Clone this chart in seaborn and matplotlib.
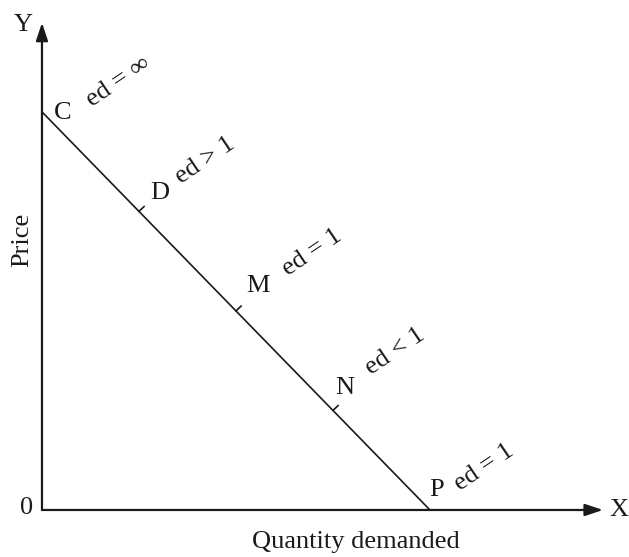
import matplotlib
matplotlib.use("Agg")
import matplotlib.pyplot as plt
import seaborn as sns
import pandas as pd

# demand line C -> P
quantity = [0, 10]
price = [10, 0]

# marked points on the line (fraction of the way from C to P)
point_names = ["D", "M", "N"]
point_q = [2.5, 5.0, 7.5]

# labels: name, x, y
point_labels = ["C", "D", "M", "N", "P"]
point_label_x = [0.54, 3.04, 5.57, 7.81, 10.18]
point_label_y = [9.97, 7.96, 5.63, 3.07, 0.50]

elast_labels = ["ed = ∞", "ed > 1", "ed = 1", "ed < 1", "ed = 1"]
elast_x = [1.96, 4.20, 6.96, 9.10, 11.39]
elast_y = [10.75, 8.79, 6.46, 3.97, 1.08]

sns.set_theme(style="white")
plt.rcParams['font.family'] = ['Liberation Serif', 'DejaVu Serif']
plt.rcParams['mathtext.fontset'] = 'stix'

fig = plt.figure(figsize=(6.29, 5.57), dpi=100)
ax = fig.add_axes([0, 0, 1, 1])
ax.set_xlim(-1.082, 15.13)
ax.set_ylim(-1.181, 12.81)
ax.axis('off')

ink = "#1a1a1a"
df = pd.DataFrame({"Quantity": quantity, "Price": price})
sns.lineplot(data=df, x="Quantity", y="Price", color=ink, lw=1.2, ax=ax)

# axes with arrows
arrow = dict(arrowstyle="-|>,head_length=0.9,head_width=0.3", color=ink, lw=1.6,
             shrinkA=0, shrinkB=0, mutation_scale=12)
ax.annotate("", xy=(14.46, 0), xytext=(0, 0), arrowprops=arrow)
ax.annotate("", xy=(0, 12.24), xytext=(0, 0), arrowprops=arrow)

# small ticks on the line
slope = (price[1] - price[0]) / (quantity[1] - quantity[0])
for q in point_q:
    p = price[0] + slope * q
    ax.plot([q, q + 0.135], [p, p + 0.125], color=ink, lw=1.2)

fs = 19
for name, x, y in zip(point_labels, point_label_x, point_label_y):
    ax.text(x, y, name, fontsize=fs, ha='center', va='center', color=ink)
for lab, x, y in zip(elast_labels, elast_x, elast_y):
    ax.text(x, y, lab, fontsize=fs, ha='center', va='center', rotation=34,
            rotation_mode='anchor', color=ink)

ax.text(-0.49, 12.19, "Y", fontsize=fs, ha='center', va='center', color=ink)
ax.text(14.87, 0.0, "X", fontsize=fs, ha='center', va='center', color=ink)
ax.text(-0.41, 0.05, "0", fontsize=fs, ha='center', va='center', color=ink)
ax.text(-0.52, 6.78, "Price", fontsize=fs, ha='center', va='center', rotation=90, color=ink)
ax.text(8.09, -0.80, "Quantity demanded", fontsize=fs, ha='center', va='center', color=ink)

plt.savefig("out.png", dpi=100)
